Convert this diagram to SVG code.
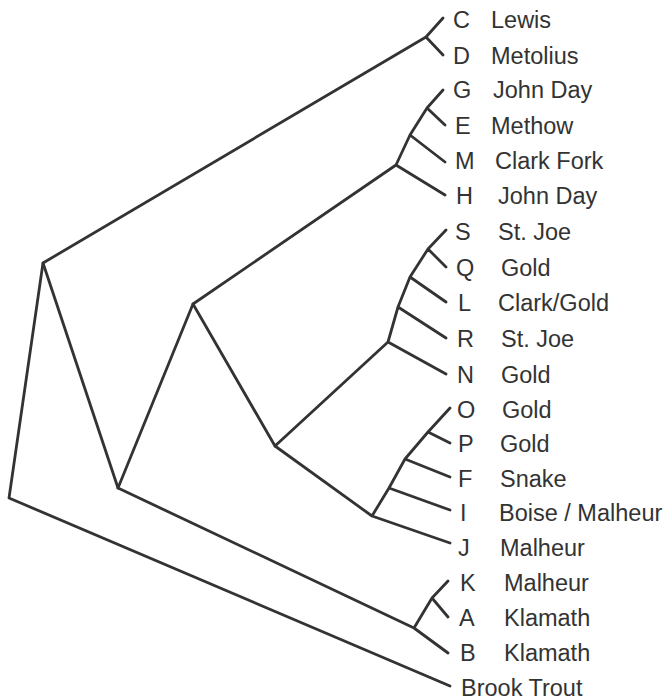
<svg xmlns="http://www.w3.org/2000/svg" width="671" height="700" viewBox="0 0 671 700">
<style>
.e{fill:none;stroke:#333;stroke-width:2.8;stroke-linecap:round;stroke-linejoin:round}
text{font-family:"Liberation Sans",Arial,sans-serif;font-size:23.5px;fill:#333}
</style>
<rect width="671" height="700" fill="#fff"/>
<g id="connectors">
<path class="e" d="M450,686 L9,498 L43,263 L426,37 M443,18 L426,37 L443,55"/>
<path class="e" d="M43,263 L118,488 L414,628 L432,598 L448,581 M432,598 L448,617 M414,628 L448,653"/>
<path class="e" d="M118,488 L193,304 L396,165 L410,135 L427,108 L443,90 M427,108 L445,125 M410,135 L445,162 M396,165 L445,195"/>
<path class="e" d="M193,304 L275,446 L388,342 L398,307 L410,277 L428,249 L446,230 M428,249 L446,267 M410,277 L446,302 M398,307 L446,338 M388,342 L446,374"/>
<path class="e" d="M275,446 L372,516 L389,488 L405,459 L428,432 L450,408 M428,432 L450,443 M405,459 L450,477 M389,488 L450,510 M372,516 L450,543"/>
</g>
<g id="labels">
<g id="C"><text x="453" y="28">C</text><text x="491" y="28">Lewis</text></g>
<g id="D"><text x="453" y="64">D</text><text x="491" y="64">Metolius</text></g>
<g id="G"><text x="453" y="98">G</text><text x="493" y="98">John Day</text></g>
<g id="E"><text x="455" y="134">E</text><text x="491" y="134">Methow</text></g>
<g id="M"><text x="455" y="169">M</text><text x="495" y="169">Clark Fork</text></g>
<g id="H"><text x="456" y="204">H</text><text x="498" y="204">John Day</text></g>
<g id="S"><text x="455" y="240">S</text><text x="498" y="240">St. Joe</text></g>
<g id="Q"><text x="456" y="276">Q</text><text x="501" y="276">Gold</text></g>
<g id="L"><text x="458" y="311">L</text><text x="498" y="311">Clark/Gold</text></g>
<g id="R"><text x="457" y="347">R</text><text x="501" y="347">St. Joe</text></g>
<g id="N"><text x="457" y="383">N</text><text x="501" y="383">Gold</text></g>
<g id="O"><text x="457" y="418">O</text><text x="502" y="418">Gold</text></g>
<g id="P"><text x="458" y="452">P</text><text x="500" y="452">Gold</text></g>
<g id="F"><text x="458" y="487">F</text><text x="500" y="487">Snake</text></g>
<g id="I"><text x="460" y="521">I</text><text x="499" y="521">Boise / Malheur</text></g>
<g id="J"><text x="458" y="556">J</text><text x="500" y="556">Malheur</text></g>
<g id="K"><text x="460" y="591">K</text><text x="504" y="591">Malheur</text></g>
<g id="A"><text x="459" y="626">A</text><text x="504" y="626">Klamath</text></g>
<g id="B"><text x="460" y="661">B</text><text x="504" y="661">Klamath</text></g>
<g id="BrookTrout"><text x="461" y="696">Brook Trout</text></g>
</g>
</svg>
